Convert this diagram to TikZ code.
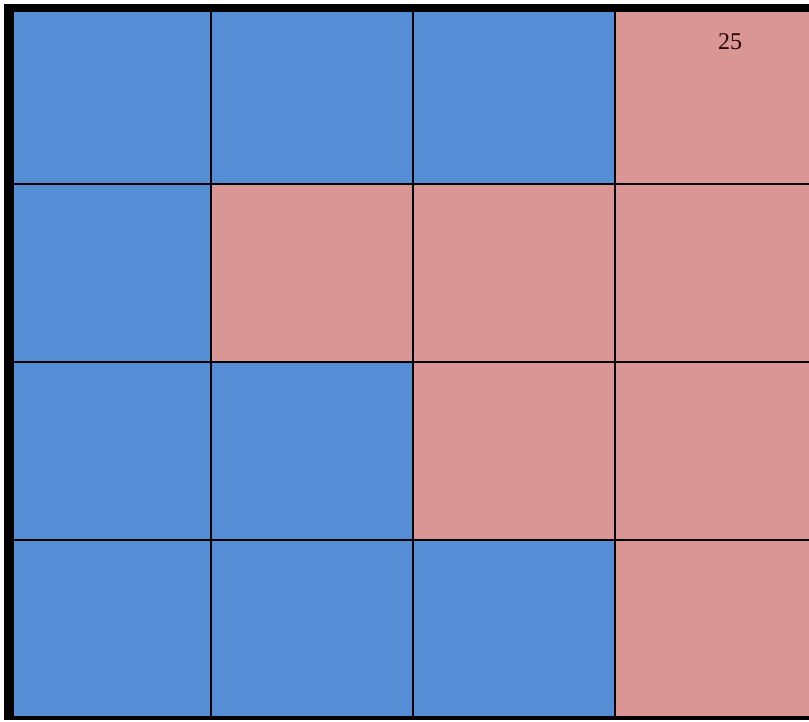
\documentclass[tikz,border=0pt]{standalone}
\usepackage{fontspec}
\setmainfont{Liberation Serif}
\definecolor{cblue}{RGB}{85,142,213}
\definecolor{cpink}{RGB}{217,150,148}
\begin{document}
\begin{tikzpicture}[x=1pt,y=-1pt,
  gridline/.style={line width=2.8pt,black},
  cellB/.style={fill=cblue},
  cellP/.style={fill=cpink}]
\useasboundingbox (0,0) rectangle (809,721);
\fill[white] (0,0) rectangle (809,721);
% cells
\def\xa{9}\def\xb{211}\def\xc{413}\def\xd{615}\def\xe{812}
\def\ya{8}\def\yb{184}\def\yc{362}\def\yd{540}\def\ye{718}
\fill[cellB] (\xa,\ya) rectangle (\xb,\yb);
\fill[cellB] (\xb,\ya) rectangle (\xc,\yb);
\fill[cellB] (\xc,\ya) rectangle (\xd,\yb);
\fill[cellP] (\xd,\ya) rectangle (\xe,\yb);
\fill[cellB] (\xa,\yb) rectangle (\xb,\yc);
\fill[cellP] (\xb,\yb) rectangle (\xc,\yc);
\fill[cellP] (\xc,\yb) rectangle (\xd,\yc);
\fill[cellP] (\xd,\yb) rectangle (\xe,\yc);
\fill[cellB] (\xa,\yc) rectangle (\xb,\yd);
\fill[cellB] (\xb,\yc) rectangle (\xc,\yd);
\fill[cellP] (\xc,\yc) rectangle (\xd,\yd);
\fill[cellP] (\xd,\yc) rectangle (\xe,\yd);
\fill[cellB] (\xa,\yd) rectangle (\xb,\ye);
\fill[cellB] (\xb,\yd) rectangle (\xc,\ye);
\fill[cellB] (\xc,\yd) rectangle (\xd,\ye);
\fill[cellP] (\xd,\yd) rectangle (\xe,\ye);
% inner grid lines
\foreach \x in {\xb,\xc,\xd} \draw[gridline] (\x,\ya) -- (\x,\ye);
\foreach \y in {\yb,\yc,\yd} \draw[gridline] (\xa,\y) -- (\xe,\y);
% outer thick border (clipped at right)
\fill[black] (4,4) rectangle (14,720);
\fill[black] (4,4) rectangle (812,12);
\fill[black] (4,716) rectangle (812,720);
\node[font=\fontsize{24}{26}\selectfont, text=black!85!red] (label) at (730,42) {25};
\end{tikzpicture}
\end{document}
